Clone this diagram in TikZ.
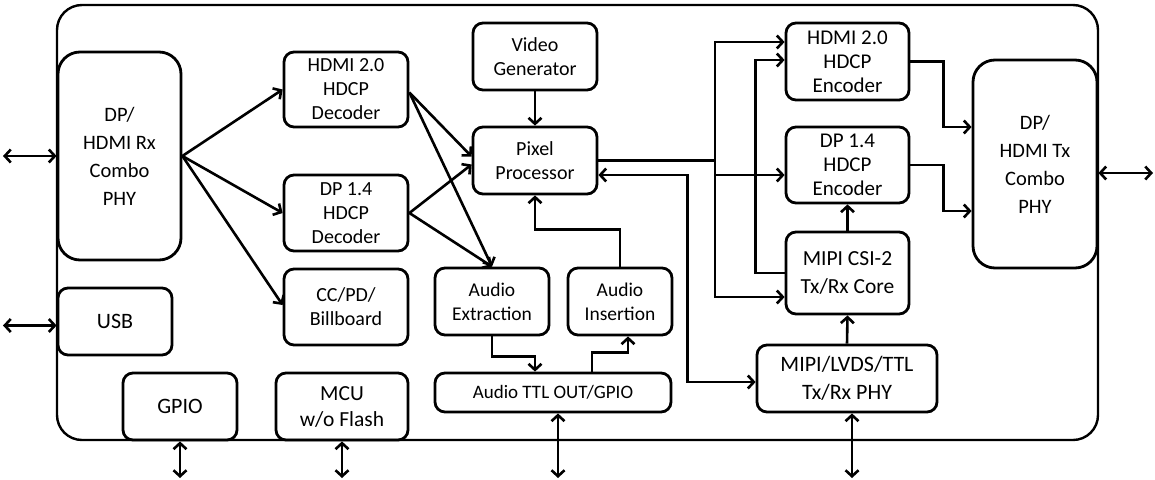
\documentclass[tikz,border=0pt]{standalone}
\usepackage{fontspec}
\setmainfont{Carlito}
\usetikzlibrary{arrows.meta,calc}
\begin{document}
\begin{tikzpicture}[x=1pt,y=-1pt,
  box/.style={draw,line width=2.8pt,rounded corners=10pt,align=center,inner sep=0pt,
    font=\fontsize{20}{24}\selectfont},
  bigbox/.style={box,rounded corners=22pt,font=\fontsize{20.5}{28}\selectfont},
  arr/.style={line width=2.6pt,-{Straight Barb[length=6pt,width=13pt]}},
  biarr/.style={line width=2.6pt,{Straight Barb[length=6pt,width=13pt]}-{Straight Barb[length=6pt,width=13pt]}},
  plain/.style={line width=2.6pt}]
\useasboundingbox (0,0) rectangle (1155,479);
% outer frame
\node[draw,line width=2.4pt,rounded corners=25pt,minimum width=1041pt,minimum height=435pt,inner sep=0pt] (chip) at (577.5,222.5) {};
% nodes
\node[bigbox,minimum width=123pt,minimum height=208pt] (rx) at (119.5,156) {DP/\\HDMI Rx\\Combo\\PHY};
\node[box,minimum width=114pt,minimum height=67pt,font=\fontsize{22}{26}\selectfont] (usb) at (115,321.5) {USB};
\node[box,minimum width=114pt,minimum height=67pt,font=\fontsize{22}{26}\selectfont] (gpio) at (180,406.5) {GPIO};
\node[box,minimum width=132pt,minimum height=67pt,font=\fontsize{21.5}{26}\selectfont] (mcu) at (342,406.5) {MCU\\w/o Flash};
\node[box,minimum width=124pt,minimum height=75pt] (hdec) at (346,89.5) {HDMI 2.0\\HDCP\\Decoder};
\node[box,minimum width=124pt,minimum height=76pt] (ddec) at (346,213) {DP 1.4\\HDCP\\Decoder};
\node[box,minimum width=124pt,minimum height=76pt] (cc) at (346,307) {CC/PD/\\Billboard};
\node[box,minimum width=124pt,minimum height=67pt] (vg) at (535,56.5) {Video\\Generator};
\node[box,minimum width=124pt,minimum height=67pt] (pp) at (535,160.5) {Pixel\\Processor};
\node[box,minimum width=114pt,minimum height=67pt,font=\fontsize{19.5}{24}\selectfont] (aext) at (492,301.5) {Audio\\Extraction};
\node[box,minimum width=104pt,minimum height=67pt,font=\fontsize{19.5}{24}\selectfont] (ains) at (620,301.5) {Audio\\Insertion};
\node[box,minimum width=236pt,minimum height=39pt,font=\fontsize{19}{24}\selectfont] (ttl) at (553,392.5) {Audio TTL OUT/GPIO};
\node[box,minimum width=123pt,minimum height=77pt,font=\fontsize{21}{24}\selectfont] (henc) at (847.5,61.5) {HDMI 2.0\\HDCP\\Encoder};
\node[box,minimum width=123pt,minimum height=76pt,font=\fontsize{21}{24}\selectfont] (denc) at (847.5,165) {DP 1.4\\HDCP\\Encoder};
\node[box,minimum width=123pt,minimum height=82pt,font=\fontsize{21.5}{28}\selectfont] (csi) at (847.5,273) {MIPI CSI-2\\Tx/Rx Core};
\node[bigbox,minimum width=124pt,minimum height=208pt] (tx) at (1035,164) {DP/\\HDMI Tx\\Combo\\PHY};
\node[box,minimum width=180pt,minimum height=67pt,font=\fontsize{22}{28}\selectfont] (mphy) at (847,378.5) {MIPI/LVDS/TTL\\Tx/Rx PHY};
% free ends
\coordinate (rxio) at (3,156);
\coordinate (usbio) at (3,325.5);
\coordinate (gpioio) at (180,478);
\coordinate (mcuio) at (342,478);
\coordinate (ttlio) at (558,478);
\coordinate (mphyio) at (852,478);
\coordinate (txio) at (1153,173);
\coordinate (j1) at (715,160.5);
% external I/O
\draw[biarr] (rxio) -- (rx.west);
\draw[biarr] (usbio) -- ([yshift=-4pt]usb.west);
\draw[biarr] (gpio.south) -- (gpioio);
\draw[biarr] (mcu.south) -- (mcuio);
\draw[biarr] ([xshift=5pt]ttl.south) -- (ttlio);
\draw[biarr] ([xshift=5pt]mphy.south) -- (mphyio);
\draw[biarr] ([yshift=-9pt]tx.east) -- (txio);
% Rx to decoders
\draw[arr] (rx.east) -- (hdec.west);
\draw[arr] (rx.east) -- (ddec.west);
\draw[arr] (rx.east) -- ([yshift=2pt]cc.west);
% decoders to pixel processor and audio extraction
\draw[arr] ([yshift=-3pt]hdec.east) -- ([yshift=4pt]pp.west);
\draw[arr] ([yshift=-3pt]hdec.east) -- (aext.north);
\draw[arr] (ddec.east) -- ([yshift=-4pt]pp.west);
\draw[arr] (ddec.east) -- (aext.north);
% video generator
\draw[arr] (vg.south) -- (pp.north);
% audio
\draw[arr] (ains.north) -- ++(0,-37) -| (pp.south);
\draw[arr] (aext.south) -- ++(0,20) -| ([xshift=-18pt]ttl.north);
\draw[arr] ([xshift=39pt]ttl.north) -- ++(0,-19) -| ([xshift=8pt]ains.south);
% pixel processor outputs
\draw[plain] (pp.east) -- (j1);
\draw[arr] (j1) |- ([yshift=19.5pt]henc.west);
\draw[arr] (j1) |- ([yshift=-10pt]denc.west);
\draw[arr] (j1) |- ([yshift=-24pt]csi.west);
\draw[biarr] ([yshift=-14.5pt]pp.east) -| ([xshift=-68pt,yshift=-3.5pt]mphy.west) -- ([yshift=-3.5pt]mphy.west);
% MIPI
\draw[arr] (csi.west) -- ++(-29,0) |- ([yshift=1.5pt]henc.west);
\draw[arr] (csi.north) -- (denc.south);
\draw[arr] (mphy.north) -- (csi.south);
% encoders to Tx
\draw[arr] (henc.east) -- ++(33,0) |- ([yshift=37pt]tx.west);
\draw[arr] (denc.east) -- ++(33,0) |- ([yshift=-47pt]tx.west);
\end{tikzpicture}
\end{document}
